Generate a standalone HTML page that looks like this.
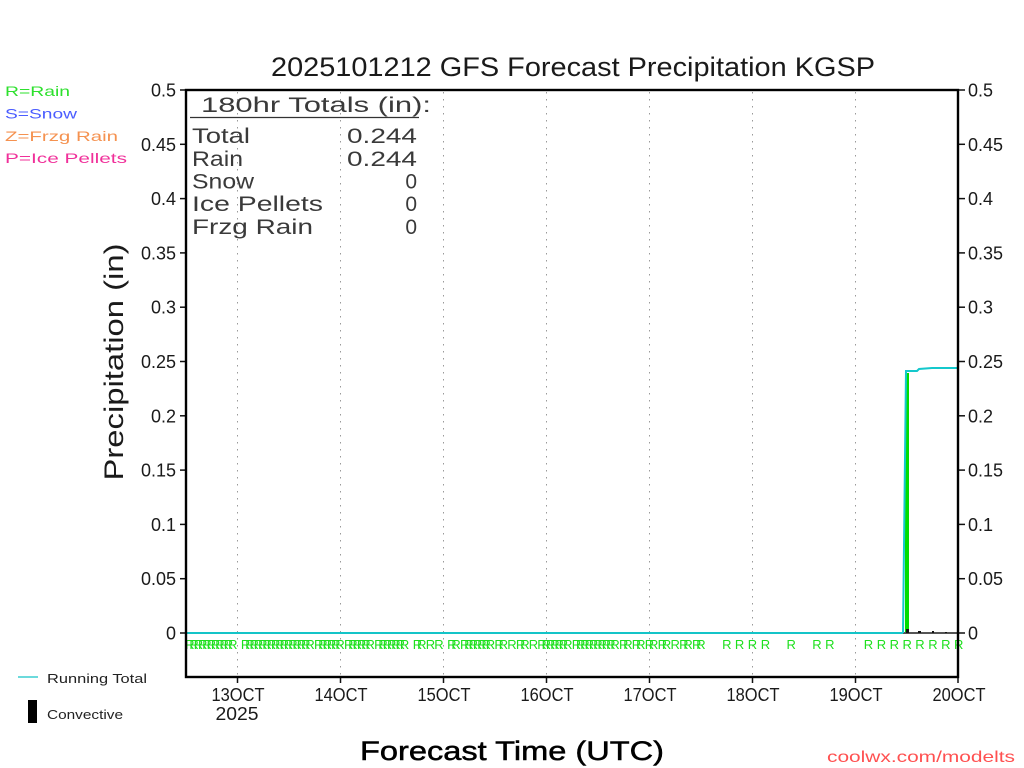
<!DOCTYPE html>
<html>
<head>
<meta charset="utf-8">
<style>
html,body{margin:0;padding:0;background:#fff;}
svg{display:block;}
text{font-family:"Liberation Sans",sans-serif;}
</style>
</head>
<body>
<svg width="1024" height="768" viewBox="0 0 1024 768" xmlns="http://www.w3.org/2000/svg">
<rect x="0" y="0" width="1024" height="768" fill="#fff"/>

<!-- Title -->
<text x="271" y="76" font-size="27" fill="#1a1a1a" textLength="604" lengthAdjust="spacingAndGlyphs">2025101212 GFS Forecast Precipitation KGSP</text>

<!-- Left legend -->
<text x="5" y="96" font-size="14" fill="#2ee02e" textLength="65" lengthAdjust="spacingAndGlyphs">R=Rain</text>
<text x="5" y="118.5" font-size="14" fill="#4a5cff" textLength="72" lengthAdjust="spacingAndGlyphs">S=Snow</text>
<text x="5" y="141" font-size="14" fill="#f59250" textLength="113" lengthAdjust="spacingAndGlyphs">Z=Frzg Rain</text>
<text x="5" y="163" font-size="14" fill="#f0309a" textLength="122" lengthAdjust="spacingAndGlyphs">P=Ice Pellets</text>

<!-- Vertical dotted gridlines -->
<g stroke="#9a9a9a" stroke-width="1" stroke-dasharray="1.5 5.5">
<line x1="237.5" y1="92" x2="237.5" y2="676"/>
<line x1="340.5" y1="92" x2="340.5" y2="676"/>
<line x1="443.5" y1="92" x2="443.5" y2="676"/>
<line x1="546.5" y1="92" x2="546.5" y2="676"/>
<line x1="649.5" y1="92" x2="649.5" y2="676"/>
<line x1="752.5" y1="92" x2="752.5" y2="676"/>
<line x1="855.5" y1="92" x2="855.5" y2="676"/>
</g>

<!-- Summary box -->
<g fill="#3a3a3a">
<text x="201" y="112" font-size="21" textLength="230" lengthAdjust="spacingAndGlyphs">180hr Totals (in):</text>
<text x="192" y="143" font-size="21" textLength="58" lengthAdjust="spacingAndGlyphs">Total</text>
<text x="192" y="166" font-size="21" textLength="51" lengthAdjust="spacingAndGlyphs">Rain</text>
<text x="192" y="188.5" font-size="21" textLength="62" lengthAdjust="spacingAndGlyphs">Snow</text>
<text x="192" y="211" font-size="21" textLength="131" lengthAdjust="spacingAndGlyphs">Ice Pellets</text>
<text x="192" y="234" font-size="21" textLength="121" lengthAdjust="spacingAndGlyphs">Frzg Rain</text>
<text x="347" y="143" font-size="21" textLength="70" lengthAdjust="spacingAndGlyphs">0.244</text>
<text x="347" y="166" font-size="21" textLength="70" lengthAdjust="spacingAndGlyphs">0.244</text>
<text x="417" y="188.5" font-size="21" text-anchor="end">0</text>
<text x="417" y="211" font-size="21" text-anchor="end">0</text>
<text x="417" y="234" font-size="21" text-anchor="end">0</text>
</g>
<line x1="190" y1="117.5" x2="419" y2="117.5" stroke="#333" stroke-width="1.2"/>

<!-- Y axis label -->
<text transform="translate(123,362) rotate(-90)" x="0" y="0" font-size="27" fill="#1a1a1a" text-anchor="middle" textLength="237" lengthAdjust="spacingAndGlyphs">Precipitation (in)</text>

<!-- Y tick labels left -->
<g font-size="18" fill="#1a1a1a" text-anchor="end">
<text x="176" y="96.5">0.5</text>
<text x="176" y="150.8">0.45</text>
<text x="176" y="205.1">0.4</text>
<text x="176" y="259.4">0.35</text>
<text x="176" y="313.7">0.3</text>
<text x="176" y="368">0.25</text>
<text x="176" y="422.3">0.2</text>
<text x="176" y="476.6">0.15</text>
<text x="176" y="530.9">0.1</text>
<text x="176" y="585.2">0.05</text>
<text x="176" y="639.5">0</text>
</g>
<!-- Y tick labels right -->
<g font-size="18" fill="#1a1a1a">
<text x="968" y="96.5">0.5</text>
<text x="968" y="150.8">0.45</text>
<text x="968" y="205.1">0.4</text>
<text x="968" y="259.4">0.35</text>
<text x="968" y="313.7">0.3</text>
<text x="968" y="368">0.25</text>
<text x="968" y="422.3">0.2</text>
<text x="968" y="476.6">0.15</text>
<text x="968" y="530.9">0.1</text>
<text x="968" y="585.2">0.05</text>
<text x="968" y="639.5">0</text>
</g>

<!-- Ticks -->
<g stroke="#111" stroke-width="1.5">
<line x1="180" y1="90" x2="186" y2="90"/>
<line x1="180" y1="144.3" x2="186" y2="144.3"/>
<line x1="180" y1="198.6" x2="186" y2="198.6"/>
<line x1="180" y1="252.9" x2="186" y2="252.9"/>
<line x1="180" y1="307.2" x2="186" y2="307.2"/>
<line x1="180" y1="361.5" x2="186" y2="361.5"/>
<line x1="180" y1="415.8" x2="186" y2="415.8"/>
<line x1="180" y1="470.1" x2="186" y2="470.1"/>
<line x1="180" y1="524.4" x2="186" y2="524.4"/>
<line x1="180" y1="578.7" x2="186" y2="578.7"/>
<line x1="180" y1="633" x2="186" y2="633"/>
<line x1="958" y1="90" x2="965" y2="90"/>
<line x1="958" y1="144.3" x2="965" y2="144.3"/>
<line x1="958" y1="198.6" x2="965" y2="198.6"/>
<line x1="958" y1="252.9" x2="965" y2="252.9"/>
<line x1="958" y1="307.2" x2="965" y2="307.2"/>
<line x1="958" y1="361.5" x2="965" y2="361.5"/>
<line x1="958" y1="415.8" x2="965" y2="415.8"/>
<line x1="958" y1="470.1" x2="965" y2="470.1"/>
<line x1="958" y1="524.4" x2="965" y2="524.4"/>
<line x1="958" y1="578.7" x2="965" y2="578.7"/>
<line x1="958" y1="633" x2="965" y2="633"/>
<line x1="237.5" y1="677" x2="237.5" y2="683"/>
<line x1="340.5" y1="677" x2="340.5" y2="683"/>
<line x1="443.5" y1="677" x2="443.5" y2="683"/>
<line x1="546.5" y1="677" x2="546.5" y2="683"/>
<line x1="649.5" y1="677" x2="649.5" y2="683"/>
<line x1="752.5" y1="677" x2="752.5" y2="683"/>
<line x1="855.5" y1="677" x2="855.5" y2="683"/>
<line x1="958" y1="677" x2="958" y2="683"/>
</g>

<!-- Rain markers -->
<text y="649" font-size="13" fill="#1ee01e" text-anchor="middle" x="189.8 194.1 198.4 202.7 207.0 211.3 215.6 219.9 224.2 228.5 232.8 245.6 249.9 254.2 258.5 262.8 267.1 271.4 275.7 280.0 284.3 288.6 292.9 297.2 301.5 305.8 310.1 318.7 323.0 327.3 331.6 335.8 340.1 348.7 353.0 357.3 361.6 365.9 370.2 378.8 383.1 387.4 391.7 396.0 400.3 404.6 417.5 421.8 430.4 438.9 451.8 456.1 464.7 469.0 473.3 477.6 481.9 486.2 490.5 499.1 503.4 512.0 520.6 524.9 533.4 542.0 546.3 550.6 554.9 559.2 563.5 567.8 576.4 580.7 585.0 589.3 593.6 597.9 602.2 606.5 610.8 615.1 623.7 628.0 636.5 640.8 649.4 653.7 662.3 666.6 675.2 683.8 688.1 696.7 701.0 726.8 739.6 752.5 765.4 791.2 817.0 829.8 868.5 881.4 894.3 907.2 920.0 932.9 945.8 958.7">RRRRRRRRRRRRRRRRRRRRRRRRRRRRRRRRRRRRRRRRRRRRRRRRRRRRRRRRRRRRRRRRRRRRRRRRRRRRRRRRRRRRRRRRRRRRRRRRRRRRRRRRRRRRRR</text>

<!-- Series -->
<rect x="905" y="373" width="4" height="260" fill="#00dd00"/>
<line x1="186" y1="633" x2="903" y2="633" stroke="#14c4c8" stroke-width="2"/>
<line x1="903" y1="633" x2="958" y2="633" stroke="#555" stroke-width="2"/>
<polyline points="903,633 906,371 917,371 919,369 932,368 958,368" fill="none" stroke="#14c8cc" stroke-width="2"/>
<g fill="#111">
<rect x="906" y="629" width="3" height="4"/>
<rect x="918" y="631" width="3" height="2"/>
<rect x="932" y="631" width="2" height="2"/>
<rect x="945" y="632" width="2" height="1"/>
</g>

<!-- Frame -->
<rect x="186" y="90" width="772" height="587" fill="none" stroke="#000" stroke-width="2.4"/>

<!-- X tick labels -->
<g font-size="18" fill="#1a1a1a" text-anchor="middle">
<text x="238" y="701" textLength="53" lengthAdjust="spacingAndGlyphs">13OCT</text>
<text x="237" y="720" textLength="43" lengthAdjust="spacingAndGlyphs">2025</text>
<text x="341" y="701" textLength="53" lengthAdjust="spacingAndGlyphs">14OCT</text>
<text x="444" y="701" textLength="53" lengthAdjust="spacingAndGlyphs">15OCT</text>
<text x="547" y="701" textLength="53" lengthAdjust="spacingAndGlyphs">16OCT</text>
<text x="650" y="701" textLength="53" lengthAdjust="spacingAndGlyphs">17OCT</text>
<text x="753" y="701" textLength="53" lengthAdjust="spacingAndGlyphs">18OCT</text>
<text x="856" y="701" textLength="53" lengthAdjust="spacingAndGlyphs">19OCT</text>
<text x="959" y="701" textLength="53" lengthAdjust="spacingAndGlyphs">20OCT</text>
</g>

<!-- Bottom-left legend -->
<line x1="18" y1="677" x2="38" y2="677" stroke="#14c4c8" stroke-width="1.2"/>
<text x="47" y="683" font-size="13" fill="#222" textLength="100" lengthAdjust="spacingAndGlyphs">Running Total</text>
<rect x="28" y="700" width="9" height="23" fill="#000"/>
<text x="47" y="719" font-size="13" fill="#222" textLength="76" lengthAdjust="spacingAndGlyphs">Convective</text>

<!-- X axis title -->
<text x="360" y="760" font-size="27" fill="#000" stroke="#000" stroke-width="0.5" textLength="304" lengthAdjust="spacingAndGlyphs">Forecast Time (UTC)</text>

<!-- Credit -->
<text x="827" y="762" font-size="16" fill="#ff5050" textLength="188" lengthAdjust="spacingAndGlyphs">coolwx.com/modelts</text>
</svg>
</body>
</html>
